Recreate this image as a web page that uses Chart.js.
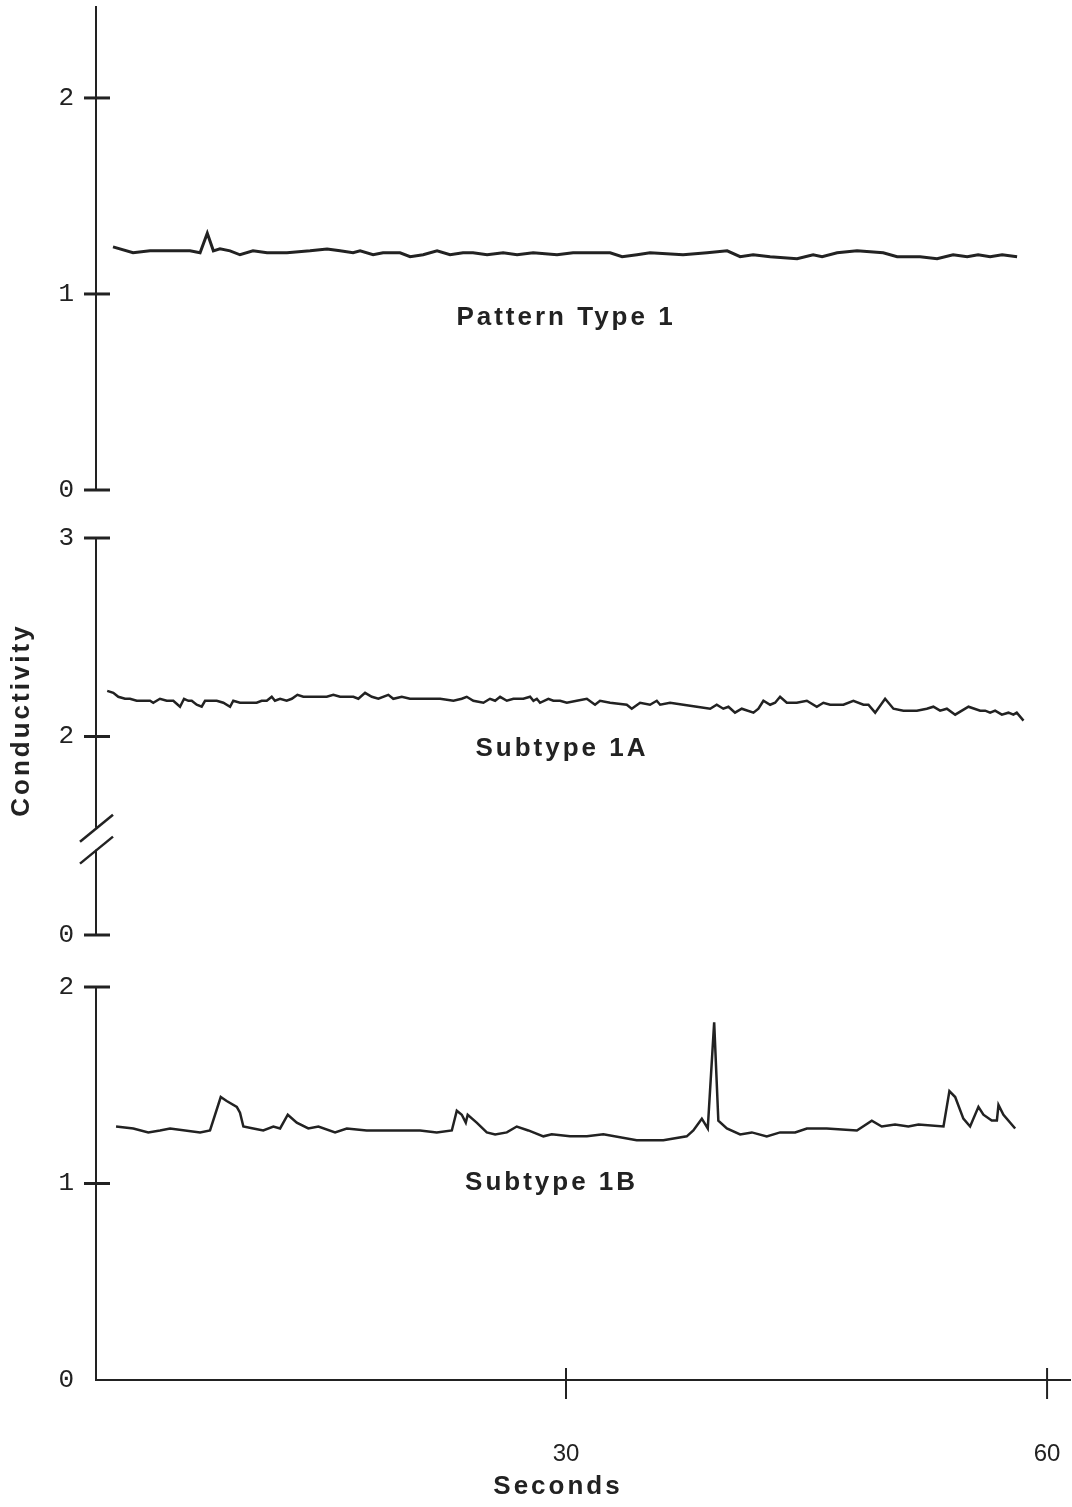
<!DOCTYPE html>
<html>
<head>
<meta charset="utf-8">
<script src="https://cdn.jsdelivr.net/npm/chart.js@4.4.0/dist/chart.umd.min.js"></script>
<style>
  html, body { margin: 0; padding: 0; background: #fff; }
  #figure { position: relative; width: 1072px; height: 1507px; overflow: hidden; }
  #figure canvas { position: absolute; left: 0; }
</style>
</head>
<body>
<div id="figure">
  <canvas id="panel1" width="1072" height="514" style="top:0px"></canvas>
  <canvas id="panel2" width="1072" height="447" style="top:514px"></canvas>
  <canvas id="panel3" width="1072" height="546" style="top:961px"></canvas>
</div>
<script>
// --- data (seconds, conductivity) ---
const panel1Times = [1.75, 3.0, 4.06, 5.12, 6.55, 7.18, 7.63, 8.01, 8.42, 9.05, 9.67, 10.48, 11.36, 12.6, 14.04, 15.1, 15.91, 16.72, 17.16, 17.97, 18.59, 19.65, 20.28, 21.09, 21.96, 22.77, 23.58, 24.2, 25.08, 26.08, 26.95, 27.95, 29.44, 30.44, 31.5, 32.75, 33.5, 34.43, 35.24, 37.3, 38.8, 40.05, 40.86, 41.67, 42.73, 44.41, 45.41, 45.97, 46.91, 48.15, 49.78, 50.65, 51.46, 52.08, 53.14, 54.14, 55.02, 55.7, 56.45, 57.2, 58.13];
const panel1Values = [1.24, 1.21, 1.22, 1.22, 1.22, 1.21, 1.31, 1.22, 1.23, 1.22, 1.20, 1.22, 1.21, 1.21, 1.22, 1.23, 1.22, 1.21, 1.22, 1.20, 1.21, 1.21, 1.19, 1.20, 1.22, 1.20, 1.21, 1.21, 1.20, 1.21, 1.20, 1.21, 1.20, 1.21, 1.21, 1.21, 1.19, 1.20, 1.21, 1.20, 1.21, 1.22, 1.19, 1.20, 1.19, 1.18, 1.20, 1.19, 1.21, 1.22, 1.21, 1.19, 1.19, 1.19, 1.18, 1.20, 1.19, 1.20, 1.19, 1.20, 1.19];

const panel2Times = [1.39, 1.77, 2.08, 2.50, 2.81, 3.23, 3.75, 4.06, 4.26, 4.68, 5.10, 5.51, 5.93, 6.18, 6.45, 6.66, 6.97, 7.28, 7.49, 7.91, 8.22, 8.63, 9.05, 9.25, 9.67, 10.71, 11.02, 11.34, 11.65, 11.85, 12.17, 12.58, 12.90, 13.25, 13.62, 14.04, 14.66, 15.08, 15.49, 15.91, 16.74, 17.05, 17.47, 17.89, 18.30, 18.92, 19.23, 19.76, 20.27, 20.90, 21.52, 22.15, 22.98, 23.50, 23.81, 24.22, 24.85, 25.26, 25.58, 25.89, 26.31, 26.72, 27.34, 27.76, 27.97, 28.18, 28.38, 28.90, 29.21, 29.63, 30.05, 30.67, 31.30, 31.81, 32.12, 32.75, 33.79, 34.10, 34.62, 35.24, 35.66, 35.87, 36.49, 37.32, 38.16, 38.99, 39.40, 39.81, 40.13, 40.54, 40.96, 41.69, 42.00, 42.31, 42.73, 43.04, 43.35, 43.77, 44.39, 45.02, 45.64, 46.05, 46.47, 47.30, 47.92, 48.55, 48.86, 49.28, 49.90, 50.42, 51.04, 51.88, 52.50, 52.91, 53.33, 53.75, 54.27, 55.10, 55.83, 56.14, 56.45, 56.76, 57.18, 57.59, 57.90, 58.11, 58.53];
const panel2Values = [2.23, 2.22, 2.20, 2.19, 2.19, 2.18, 2.18, 2.18, 2.17, 2.19, 2.18, 2.18, 2.15, 2.19, 2.18, 2.18, 2.16, 2.15, 2.18, 2.18, 2.18, 2.17, 2.15, 2.18, 2.17, 2.17, 2.18, 2.18, 2.20, 2.18, 2.19, 2.18, 2.19, 2.21, 2.20, 2.20, 2.20, 2.20, 2.21, 2.20, 2.20, 2.19, 2.22, 2.20, 2.19, 2.21, 2.19, 2.20, 2.19, 2.19, 2.19, 2.19, 2.18, 2.19, 2.20, 2.18, 2.17, 2.19, 2.18, 2.20, 2.18, 2.19, 2.19, 2.20, 2.18, 2.19, 2.17, 2.19, 2.18, 2.18, 2.17, 2.18, 2.19, 2.16, 2.18, 2.17, 2.16, 2.14, 2.17, 2.16, 2.18, 2.16, 2.17, 2.16, 2.15, 2.14, 2.16, 2.14, 2.15, 2.12, 2.14, 2.12, 2.14, 2.18, 2.16, 2.17, 2.20, 2.17, 2.17, 2.18, 2.15, 2.17, 2.16, 2.16, 2.18, 2.16, 2.16, 2.12, 2.19, 2.14, 2.13, 2.13, 2.14, 2.15, 2.13, 2.14, 2.11, 2.15, 2.13, 2.13, 2.12, 2.13, 2.11, 2.12, 2.11, 2.12, 2.08];

const panel3Times = [1.94, 3.02, 3.95, 4.68, 5.31, 7.18, 7.80, 8.47, 8.84, 9.47, 9.67, 9.88, 10.50, 11.12, 11.75, 12.17, 12.65, 13.21, 13.93, 14.56, 15.60, 16.33, 17.57, 19.65, 20.90, 21.94, 22.88, 23.19, 23.50, 23.75, 23.87, 24.43, 25.06, 25.58, 26.31, 26.93, 27.65, 28.59, 29.11, 30.25, 31.30, 32.33, 34.41, 36.07, 37.53, 37.94, 38.47, 38.84, 39.24, 39.50, 40.03, 40.86, 41.59, 42.52, 43.35, 44.29, 45.02, 46.26, 48.14, 49.07, 49.69, 50.52, 51.35, 51.98, 53.54, 53.91, 54.27, 54.78, 55.20, 55.72, 56.03, 56.55, 56.87, 56.97, 57.28, 58.01];
const panel3Values = [1.29, 1.28, 1.26, 1.27, 1.28, 1.26, 1.27, 1.44, 1.42, 1.39, 1.36, 1.29, 1.28, 1.27, 1.29, 1.28, 1.35, 1.31, 1.28, 1.29, 1.26, 1.28, 1.27, 1.27, 1.27, 1.26, 1.27, 1.37, 1.35, 1.31, 1.35, 1.31, 1.26, 1.25, 1.26, 1.29, 1.27, 1.24, 1.25, 1.24, 1.24, 1.25, 1.22, 1.22, 1.24, 1.27, 1.33, 1.28, 1.82, 1.32, 1.28, 1.25, 1.26, 1.24, 1.26, 1.26, 1.28, 1.28, 1.27, 1.32, 1.29, 1.30, 1.29, 1.30, 1.29, 1.47, 1.44, 1.33, 1.29, 1.39, 1.35, 1.32, 1.32, 1.40, 1.35, 1.28];

// --- axes ---
const xTickValues = [30, 60];
const xTickLabels = ['30', '60'];
const panel1TickValues = [0, 1, 2];
const panel1TickLabels = ['0', '1', '2'];
// middle panel has a broken axis: the lowest tick stands for 0
const panel2TickValues = [1, 2, 3];
const panel2TickLabels = ['0', '2', '3'];
const panel2BreakValues = [1.43, 1.54];
const panel3TickValues = [0, 1, 2];
const panel3TickLabels = ['0', '1', '2'];

const panelTitles = ['Pattern Type 1', 'Subtype 1A', 'Subtype 1B'];
const yAxisTitle = 'Conductivity';
const xAxisTitle = 'Seconds';

const ink = '#222';
const xMin = 0.69, xMax = 61.43;

function toPoints(times, values) {
  return times.map((t, i) => ({ x: t, y: values[i] }));
}

// draws the ticks that cross the axis, panel captions, axis break, axis titles
function makeMarks(cfg) {
  return {
    id: 'marks',
    afterDraw(chart) {
      const { ctx, chartArea } = chart;
      const xs = chart.scales.x, ys = chart.scales.y;
      const left = chartArea.left;
      ctx.save();
      ctx.strokeStyle = ink;
      ctx.fillStyle = ink;

      ctx.lineWidth = 3;
      cfg.crossTicks.forEach(v => {
        const py = ys.getPixelForValue(v);
        ctx.beginPath();
        ctx.moveTo(left - 12, py);
        ctx.lineTo(left + 14, py);
        ctx.stroke();
      });

      if (cfg.breakAt) {
        const yA = ys.getPixelForValue(cfg.breakAt[1]);
        const yB = ys.getPixelForValue(cfg.breakAt[0]);
        ctx.fillStyle = '#fff';
        ctx.fillRect(left - 4, yA, 8, yB - yA);
        ctx.fillStyle = ink;
        ctx.lineWidth = 2.5;
        [yA, yB].forEach(py => {
          ctx.beginPath();
          ctx.moveTo(left - 16, py + 14);
          ctx.lineTo(left + 17, py - 13);
          ctx.stroke();
        });
      }

      if (cfg.xTicks) {
        ctx.lineWidth = 2;
        xTickValues.forEach(v => {
          const px = xs.getPixelForValue(v);
          ctx.beginPath();
          ctx.moveTo(px, chartArea.bottom - 12);
          ctx.lineTo(px, chartArea.bottom + 19);
          ctx.stroke();
        });
      }

      ctx.font = 'bold 26px "Liberation Sans"';
      ctx.letterSpacing = '3px';
      ctx.textAlign = 'center';
      ctx.textBaseline = 'middle';
      ctx.fillText(cfg.title, xs.getPixelForValue(cfg.titleAt[0]), ys.getPixelForValue(cfg.titleAt[1]));

      if (cfg.yTitle) {
        ctx.save();
        ctx.translate(left - 74, ys.getPixelForValue(cfg.yTitle[1]));
        ctx.rotate(-Math.PI / 2);
        ctx.fillText(cfg.yTitle[0], 0, 0);
        ctx.restore();
      }
      if (cfg.xTitle) {
        ctx.fillText(cfg.xTitle[0], xs.getPixelForValue(cfg.xTitle[1]), xs.bottom - 20);
      }
      ctx.restore();
    }
  };
}

function panelOptions(yMin, yMax, tickValues, tickLabels, pad, bottomAxis) {
  return {
    responsive: false,
    animation: false,
    devicePixelRatio: 1,
    layout: { padding: pad },
    plugins: { legend: { display: false }, tooltip: { enabled: false } },
    elements: { point: { radius: 0 }, line: { tension: 0 } },
    scales: {
      x: {
        type: 'linear',
        min: xMin,
        max: xMax,
        display: bottomAxis,
        grid: { display: false, drawTicks: true, tickLength: 60 },
        border: { display: true, color: ink, width: 2 },
        ticks: {
          padding: 0, color: ink, maxRotation: 0, autoSkip: false,
          font: { family: 'Liberation Sans', size: 24, lineHeight: 1.2 },
          callback: (v, i) => xTickLabels[i]
        },
        afterBuildTicks: s => { s.ticks = xTickValues.map(v => ({ value: v })); },
        afterFit: s => { s.height = bottomAxis ? 127 : 0; }
      },
      y: {
        type: 'linear',
        min: yMin,
        max: yMax,
        grid: { display: false, drawTicks: true, tickLength: 22 },
        border: { display: true, color: ink, width: 2 },
        ticks: {
          padding: 0, color: ink, autoSkip: false,
          font: { family: 'Liberation Mono', size: 26, lineHeight: 0.4 },
          callback: (v, i) => tickLabels[i]
        },
        afterBuildTicks: s => { s.ticks = tickValues.map(v => ({ value: v })); },
        afterFit: s => { s.width = 96; }
      }
    }
  };
}

new Chart(document.getElementById('panel1'), {
  type: 'line',
  data: { datasets: [{ data: toPoints(panel1Times, panel1Values), borderColor: ink, borderWidth: 3 }] },
  options: panelOptions(0, 2.464, panel1TickValues, panel1TickLabels, { top: 7, bottom: 24, left: 0, right: 2 }, false),
  plugins: [makeMarks({ crossTicks: panel1TickValues, title: panelTitles[0], titleAt: [30.0, 0.878] })]
});

new Chart(document.getElementById('panel2'), {
  type: 'line',
  data: { datasets: [{ data: toPoints(panel2Times, panel2Values), borderColor: ink, borderWidth: 2.5 }] },
  options: panelOptions(1, 3, panel2TickValues, panel2TickLabels, { top: 24, bottom: 26, left: 0, right: 2 }, false),
  plugins: [makeMarks({ crossTicks: panel2TickValues, breakAt: panel2BreakValues, title: panelTitles[1], titleAt: [29.75, 1.94], yTitle: [yAxisTitle, 2.083] })]
});

new Chart(document.getElementById('panel3'), {
  type: 'line',
  data: { datasets: [{ data: toPoints(panel3Times, panel3Values), borderColor: ink, borderWidth: 2.5 }] },
  options: panelOptions(0, 2, panel3TickValues, panel3TickLabels, { top: 26, bottom: 0, left: 0, right: 2 }, true),
  plugins: [makeMarks({ crossTicks: [1, 2], xTicks: true, title: panelTitles[2], titleAt: [29.1, 1.005], xTitle: [xAxisTitle, 29.5] })]
});
</script>
</body>
</html>
